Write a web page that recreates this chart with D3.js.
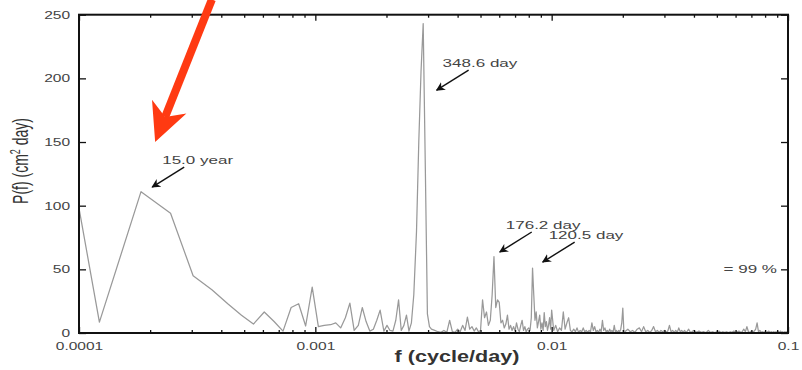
<!DOCTYPE html>
<html>
<head>
<meta charset="utf-8">
<script src="https://cdn.jsdelivr.net/npm/d3@7"></script>
<style>
  body { margin: 0; background: #fff; }
  svg { display: block; font-family: "Liberation Sans", Arial, sans-serif; }
</style>
</head>
<body>
<div class="chart"></div>
<script>
// declare global values
const WIDTH = 802;
const HEIGHT = 370;
const PLOT = { left: 79, right: 788, top: 14.7, bottom: 333 };
const STRETCH = 1.48; // the source picture is squeezed wide, so text is too

// frequency (cycle/day) and power P(f)
const freq = [
  0.0001, 0.000122, 0.000183, 0.000244, 0.000304, 0.000365, 0.000426, 0.000487, 0.000547, 0.000608,
  0.000669, 0.00073, 0.00079, 0.00085, 0.00091, 0.00097, 0.00103, 0.00109, 0.00116, 0.00122,
  0.00128, 0.00134, 0.0014, 0.00146, 0.00152, 0.00158, 0.00164, 0.0017, 0.00176, 0.00182,
  0.00188, 0.00195, 0.00201, 0.00207, 0.00213, 0.00219, 0.00225, 0.00231, 0.00237, 0.00243,
  0.00249, 0.00255, 0.00261, 0.00268, 0.00274, 0.0028, 0.00286, 0.00292, 0.00298, 0.00304,
  0.0031, 0.0032,
  0.0033, 0.0034, 0.0035, 0.0036, 0.0037, 0.0038, 0.0039, 0.004, 0.0041, 0.0042,
  0.0043, 0.0044, 0.0045, 0.0046, 0.0047, 0.0048, 0.0049, 0.005, 0.0051, 0.0052,
  0.0053, 0.0054, 0.0055, 0.0056, 0.0057, 0.0058, 0.0059, 0.006, 0.0061, 0.0062,
  0.0063, 0.0064, 0.0065, 0.0066, 0.0067, 0.0068, 0.0069, 0.007, 0.0071, 0.0072,
  0.0073, 0.0074, 0.0075, 0.0076, 0.0077, 0.0078, 0.0079, 0.008, 0.0081, 0.0082,
  0.0083, 0.0084, 0.0085, 0.0086, 0.0087, 0.0088, 0.0089, 0.009, 0.0091, 0.0092,
  0.0093, 0.0094, 0.0095, 0.0096, 0.0097, 0.0098, 0.0099, 0.01,
  0.0102, 0.0104, 0.0106, 0.0108, 0.011, 0.0112, 0.0114, 0.0116, 0.0118, 0.012,
  0.0122, 0.0124, 0.0126, 0.0128, 0.013, 0.0132, 0.0134, 0.0136, 0.0138, 0.014,
  0.0142, 0.0144, 0.0146, 0.0148, 0.015, 0.0152, 0.0154, 0.0156, 0.0158, 0.016,
  0.0162, 0.0164, 0.0166, 0.0168, 0.017, 0.0172, 0.0174, 0.0176, 0.0178, 0.018,
  0.0182, 0.0184, 0.0186, 0.0188, 0.019, 0.0192, 0.0194, 0.0196, 0.0198, 0.02,
  0.0202, 0.0204,
  0.021, 0.0215, 0.022, 0.0225, 0.023, 0.0235, 0.024, 0.0245, 0.025, 0.0255,
  0.026, 0.0265, 0.027, 0.0275, 0.028, 0.0285, 0.029, 0.0295, 0.03, 0.0305,
  0.031, 0.0315, 0.032, 0.0325, 0.033, 0.0335, 0.034, 0.0345, 0.035, 0.0355,
  0.036, 0.0365, 0.037, 0.0375, 0.038, 0.0385, 0.039, 0.0395, 0.04,
  0.041, 0.042, 0.043, 0.044, 0.045, 0.046, 0.047, 0.048, 0.049, 0.05,
  0.051, 0.052, 0.053, 0.054, 0.055, 0.056, 0.057, 0.058, 0.059, 0.06,
  0.061, 0.062, 0.063, 0.064, 0.065, 0.066, 0.067, 0.068, 0.069, 0.07,
  0.071, 0.072, 0.073, 0.074, 0.075, 0.076, 0.077, 0.078, 0.079, 0.08,
  0.081, 0.082, 0.083, 0.084, 0.085, 0.086, 0.087, 0.088, 0.089, 0.09,
  0.091, 0.092, 0.093, 0.094, 0.095, 0.096, 0.097, 0.098, 0.099, 0.1
];
const power = [
  98, 8.5, 111, 94, 45, 34, 23, 14, 7, 16.5,
  9, 1.5, 20, 23, 5.5, 36, 5, 6, 6.5, 8,
  4, 12, 23.5, 2, 6, 20, 9, 1.5, 3, 10,
  18, 1.5, 6, 2, 1.5, 10, 26, 2, 6, 14,
  1.5, 8, 30, 80, 150, 205, 243, 130, 15, 5,
  3, 2,
  1, 0.5, 2, 0.5, 10, 1, 0.5, 3, 1, 6,
  2, 12.5, 3, 5, 1.5, 4, 1, 2, 26, 12,
  16.5, 6, 10, 30, 60, 20, 26, 24, 8, 10,
  4, 7, 14, 3, 6, 2, 5, 1.5, 8, 3,
  1, 6, 10, 2, 5, 1, 3, 4, 2, 12,
  51, 30, 10, 16.5, 4, 9, 14, 3, 8, 2,
  16, 5, 9, 2, 6, 12, 3, 18,
  2, 6, 1, 4, 2, 16.5, 3, 8, 12, 2,
  1, 3, 1, 4, 0.5, 2, 1, 4, 1, 2,
  0.5, 2, 1, 8, 2, 5, 1, 2, 0.5, 3,
  1, 10, 2, 4, 1, 2, 0.5, 3, 1, 2,
  0.5, 6, 1, 2, 0.5, 2, 1, 3, 8, 19.6,
  2, 1,
  3, 1, 2, 0.5, 3, 4, 1, 5, 1, 2,
  0.5, 2, 5, 1, 2, 0.5, 2, 1, 2, 0.5,
  1.5, 6, 1, 2, 0.5, 2, 0.5, 4, 1, 2,
  0.5, 2, 0.5, 1.5, 3, 1, 0.5, 1.5, 2,
  0.5, 1.5, 0.5, 1, 0.3, 2, 0.5, 1, 0.3, 1,
  1.5, 0.3, 1, 0.5, 1, 0.3, 1, 0.5, 1.5, 0.3,
  1, 1.5, 0.5, 1, 3, 1, 5, 1, 0.5, 1.5,
  0.5, 1.5, 3, 8, 1, 2, 0.5, 1, 0.5, 1,
  0.3, 1, 1.5, 0.5, 1, 0.3, 1, 0.5, 1, 0.3,
  1, 0.5, 1.5, 0.5, 1, 0.3, 1, 0.5, 1, 0.5
];

// axis ticks
const xTicks = [0.0001, 0.001, 0.01, 0.1];
const xTickLabels = ["0.0001", "0.001", "0.01", "0.1"];
const yTicks = [0, 50, 100, 150, 200, 250];
const yTickLabels = ["0", "50", "100", "150", "200", "250"];

// peak annotations: where the arrow points and the label
const peakFreq = [0.000204, 0.00326, 0.00603, 0.00916];
const peakPower = [114.6, 190.7, 63.6, 55.7];
const peakLabels = ["15.0 year", "348.6 day", "176.2 day", "120.5 day"];
const SIG_LEVEL = 50;
const SIG_LABEL = "= 99 %";

var x = d3.scaleLog().domain([1e-4, 0.1]).range([PLOT.left, PLOT.right]);
var y = d3.scaleLinear().domain([0, 250]).range([PLOT.bottom, PLOT.top]);

var svg = d3
  .select(".chart")
  .append("svg")
  .attr("width", WIDTH)
  .attr("height", HEIGHT);

var defs = svg.append("defs");
defs
  .append("clipPath")
  .attr("id", "clip")
  .append("rect")
  .attr("x", PLOT.left)
  .attr("y", PLOT.top)
  .attr("width", PLOT.right - PLOT.left)
  .attr("height", PLOT.bottom - PLOT.top);
defs
  .append("marker")
  .attr("id", "head")
  .attr("markerUnits", "userSpaceOnUse")
  .attr("viewBox", "0 0 10 10")
  .attr("refX", 9)
  .attr("refY", 5)
  .attr("markerWidth", 9)
  .attr("markerHeight", 9)
  .attr("orient", "auto")
  .append("path")
  .attr("d", "M0,0L10,5L0,10L3,5Z")
  .attr("fill", "#111");

// the spectrum line
var rows = freq.map((f, i) => ({ f: f, p: power[i] }));
var valueLine = d3
  .line()
  .x((d) => x(d.f))
  .y((d) => y(d.p));

svg
  .append("g")
  .attr("clip-path", "url(#clip)")
  .append("path")
  .datum(rows)
  .attr("d", valueLine)
  .attr("fill", "none")
  .attr("stroke", "#999")
  .attr("stroke-width", 1.25)
  .attr("stroke-linejoin", "round");

// minor log ticks (2..9 each decade)
var minor = [];
for (var dec = 1e-4; dec < 0.1; dec *= 10) {
  for (var m = 2; m <= 9; m++) minor.push(dec * m);
}

// bottom axis
var bottom = svg
  .append("g")
  .attr("transform", `translate(0,${PLOT.bottom})`)
  .call(
    d3.axisBottom(x).tickValues(xTicks).tickSizeInner(-6).tickSizeOuter(0)
      .tickFormat((d, i) => xTickLabels[i])
  )
  .call((g) => g.select(".domain").remove());
bottom.selectAll(".tick text")
  .attr("y", 10)
  .attr("dy", "0.71em")
  .attr("transform", `scale(${STRETCH},1)`)
  .attr("fill", "#444")
  .style("font-size", "10.5px");
svg.append("g")
  .attr("transform", `translate(0,${PLOT.bottom})`)
  .call(d3.axisBottom(x).tickValues(minor).tickSizeInner(-3).tickSizeOuter(0).tickFormat(""))
  .call((g) => g.select(".domain").remove());

// top axis (mirror)
svg.append("g")
  .attr("transform", `translate(0,${PLOT.top})`)
  .call(d3.axisTop(x).tickValues(xTicks).tickSizeInner(-6).tickSizeOuter(0).tickFormat(""))
  .call((g) => g.select(".domain").remove());
svg.append("g")
  .attr("transform", `translate(0,${PLOT.top})`)
  .call(d3.axisTop(x).tickValues(minor).tickSizeInner(-3).tickSizeOuter(0).tickFormat(""))
  .call((g) => g.select(".domain").remove());

// left axis
var left = svg
  .append("g")
  .attr("transform", `translate(${PLOT.left},0)`)
  .call(
    d3.axisLeft(y).tickValues(yTicks).tickSizeInner(-7).tickSizeOuter(0)
      .tickFormat((d, i) => yTickLabels[i])
  )
  .call((g) => g.select(".domain").remove());
left.selectAll(".tick text")
  .attr("x", -6)
  .attr("transform", `scale(${STRETCH},1)`)
  .attr("fill", "#444")
  .style("font-size", "10.5px");

// right axis (mirror)
svg.append("g")
  .attr("transform", `translate(${PLOT.right},0)`)
  .call(d3.axisRight(y).tickValues(yTicks).tickSizeInner(-7).tickSizeOuter(0).tickFormat(""))
  .call((g) => g.select(".domain").remove());

svg.selectAll(".tick line").attr("stroke", "#111").attr("stroke-width", 1.3);

// frame
svg
  .append("rect")
  .attr("x", PLOT.left)
  .attr("y", PLOT.top)
  .attr("width", PLOT.right - PLOT.left)
  .attr("height", PLOT.bottom - PLOT.top)
  .attr("fill", "none")
  .attr("stroke", "#111")
  .attr("stroke-width", 2);

// axis titles
svg
  .append("text")
  .attr("transform", `translate(457,362) scale(1.35,1)`)
  .attr("text-anchor", "middle")
  .attr("fill", "#333")
  .style("font-size", "16px")
  .style("font-weight", "bold")
  .text("f (cycle/day)");

var ylab = svg
  .append("text")
  .attr("transform", `translate(28,161) scale(1.6,1) rotate(-90)`)
  .attr("text-anchor", "middle")
  .attr("fill", "#333")
  .style("font-size", "14px");
ylab.append("tspan").text("P(f) (cm");
ylab.append("tspan").attr("dy", -5).style("font-size", "9px").text("2");
ylab.append("tspan").attr("dy", 5).text(" day)");

// peak labels with small arrows
var ann = svg.append("g");
peakLabels.forEach(function (label, i) {
  var tx = x(peakFreq[i]);
  var ty = y(peakPower[i]);
  ann
    .append("line")
    .attr("x1", tx + 32)
    .attr("y1", ty - 20)
    .attr("x2", tx)
    .attr("y2", ty)
    .attr("stroke", "#111")
    .attr("stroke-width", 1.4)
    .attr("marker-end", "url(#head)");
  ann
    .append("text")
    .attr("transform", `translate(${tx + (i === 0 ? 10 : 6)},${ty - 23}) scale(${STRETCH},1)`)
    .attr("fill", "#444")
    .style("font-size", "11.5px")
    .text(label);
});

// significance label at right
svg
  .append("text")
  .attr("transform", `translate(777,${y(SIG_LEVEL) + 4}) scale(${STRETCH},1)`)
  .attr("text-anchor", "end")
  .attr("fill", "#444")
  .style("font-size", "11.5px")
  .text(SIG_LABEL);

// big red pointer at the 15.0 year peak
const RED = "#ff3a12";
var tip = [x(0.00021), y(150)];
var tail = [x(0.000365), y(262)];
var dx = tail[0] - tip[0], dy = tail[1] - tip[1];
var len = Math.sqrt(dx * dx + dy * dy);
var ux = dx / len, uy = dy / len; // along shaft, towards tail
var px = -uy, py = ux; // perpendicular
var headLen = 38, headHalf = 18.5, notch = 27;
var base = [tip[0] + ux * headLen, tip[1] + uy * headLen];
var nk = [tip[0] + ux * notch, tip[1] + uy * notch];
svg
  .append("line")
  .attr("x1", nk[0])
  .attr("y1", nk[1])
  .attr("x2", tail[0])
  .attr("y2", tail[1])
  .attr("stroke", RED)
  .attr("stroke-width", 8);
svg
  .append("polygon")
  .attr(
    "points",
    [
      tip,
      [base[0] + px * headHalf, base[1] + py * headHalf],
      nk,
      [base[0] - px * headHalf, base[1] - py * headHalf],
    ].map((p) => p.join(",")).join(" ")
  )
  .attr("fill", RED);
</script>
</body>
</html>
